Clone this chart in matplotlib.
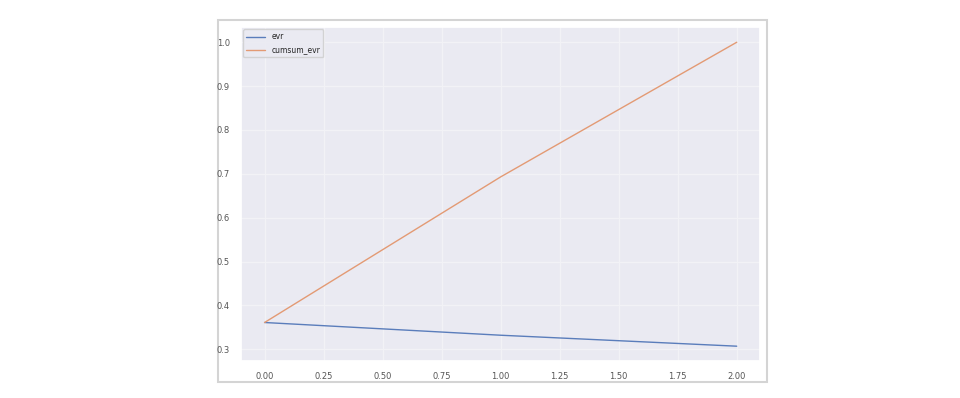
import matplotlib
matplotlib.use("Agg")
import matplotlib.pyplot as plt
import seaborn as sns
from matplotlib.patches import Rectangle

# explained variance ratio per component and its running total
components = [0, 1, 2]
evr = [0.361, 0.332, 0.307]
cumsum_evr = [0.361, 0.693, 1.0]

sns.set_theme(style="darkgrid")
plt.rcParams['font.family'] = ['DejaVu Sans']

fig = plt.figure(figsize=(9.6, 3.98), dpi=100)
fig.patch.set_facecolor('white')

# light grey frame around the plotted figure
frame = Rectangle((0.227, 0.040), 0.572, 0.910, transform=fig.transFigure,
                  fill=False, edgecolor='#d4d4d4', linewidth=1.5, zorder=-1)
fig.patches.append(frame)

ax = fig.add_axes([0.251, 0.092, 0.541, 0.840])
ax.plot(components, evr, color='#5a7dbb', linewidth=1.0, label='evr')
ax.plot(components, cumsum_evr, color='#e39a74', linewidth=1.0, label='cumsum_evr')

ax.set_xticks([0.0, 0.25, 0.5, 0.75, 1.0, 1.25, 1.5, 1.75, 2.0])
ax.set_xticklabels(['0.00', '0.25', '0.50', '0.75', '1.00', '1.25', '1.50', '1.75', '2.00'])
ax.set_yticks([0.3, 0.4, 0.5, 0.6, 0.7, 0.8, 0.9, 1.0])
ax.tick_params(labelsize=6, colors='#555555', pad=2)
ax.grid(color='#f2f2f6', linewidth=0.9)
ax.legend(loc='upper left', fontsize=5.5, frameon=True, borderaxespad=0.3,
          handlelength=2.5)

fig.savefig('out.png', dpi=100)
